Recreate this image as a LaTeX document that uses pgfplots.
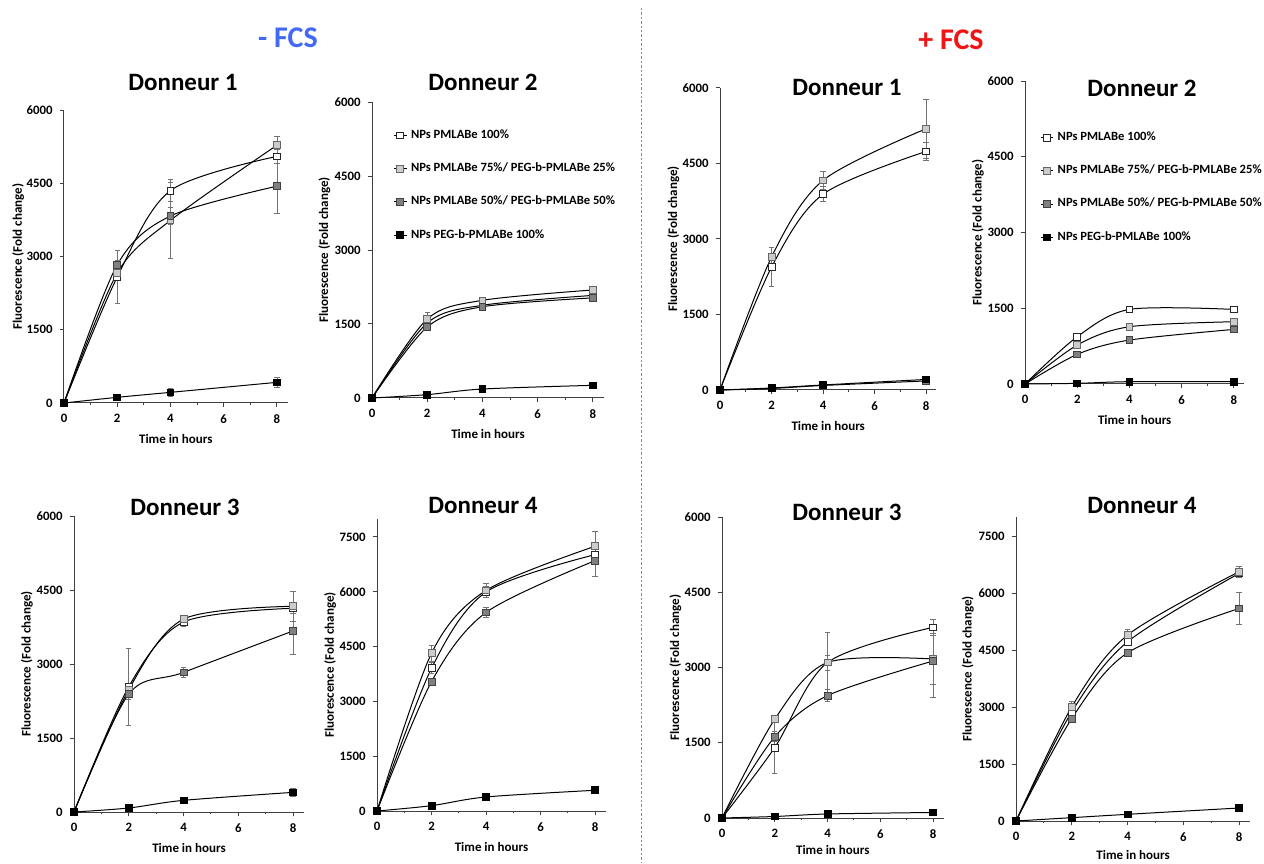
\documentclass[border=0pt]{standalone}
\usepackage{fontspec}
\setmainfont{Carlito}
\usepackage{pgfplots}
\usepackage{pgfplotstable}
\pgfplotsset{compat=1.18}

% columns: t, A (PMLABe 100%), B (75/25), C (50/50), D (PEG 100%) with errors
\pgfplotstableread{
t A Ae B Be C Ce D De
0 0 0 0 0 0 0 0 0
2 2580 550 2660 120 2830 100 116 60
4 4350 230 3740 780 3830 170 218 90
8 5050 150 5280 170 4440 560 423 110
}\tabI
\pgfplotstableread{
t A Ae B Be C Ce D De
0 0 0 0 0 0 0 0 0
2 1520 60 1600 130 1440 60 68 20
4 1880 50 1980 60 1850 50 182 30
8 2080 40 2190 50 2030 40 257 30
}\tabII
\pgfplotstableread{
t A Ae B Be C Ce D De
0 0 0 0 0 0 0 0 0
2 2440 390 2640 200 30 10 40 20
4 3890 150 4165 170 90 20 100 30
8 4740 180 5190 590 180 40 210 60
}\tabIII
\pgfplotstableread{
t A Ae B Be C Ce D De
0 0 0 0 0 0 0 0 0
2 936 30 771 30 587 30 13 10
4 1477 30 1134 30 870 30 46 15
8 1477 30 1233 30 1081 30 46 15
}\tabIV
\pgfplotstableread{
t A Ae B Be C Ce D De
0 0 0 0 0 0 0 0 0
2 2540 780 2480 100 2390 100 81 60
4 3850 80 3910 60 2830 100 236 30
8 4130 100 4170 300 3670 470 398 80
}\tabV
\pgfplotstableread{
t A Ae B Be C Ce D De
0 0 0 0 0 0 0 0 0
2 3905 150 4317 220 3540 100 146 40
4 5991 150 6036 180 5433 130 384 40
8 7015 200 7244 410 6850 430 567 50
}\tabVI
\pgfplotstableread{
t A Ae B Be C Ce D De
0 0 0 0 0 0 0 0 0
2 1405 520 1970 60 1620 100 30 10
4 3100 150 3100 600 2440 120 80 20
8 3800 150 3170 500 3130 720 110 20
}\tabVII
\pgfplotstableread{
t A Ae B Be C Ce D De
0 0 0 0 0 0 0 0 0
2 2872 100 3003 150 2696 80 88 20
4 4716 100 4892 150 4426 60 176 30
8 6516 100 6560 150 5594 420 342 40
}\tabVIII

\definecolor{fcsblue}{RGB}{66,105,245}
\definecolor{fcsred}{RGB}{240,20,20}

\pgfplotsset{
  panel/.style={
    scale only axis, anchor=south west,
    xmin=0, xmax=8.4, ymin=0,
    axis lines*=left,
    xtick={0,2,4,6,8}, minor xtick={1,3,5,7},
    tick align=outside,
    major tick length=2.2pt, minor tick length=1.2pt,
    axis line style={draw=black!75, line width=0.5pt},
    every tick/.style={black!75, line width=0.5pt},
    tick label style={font=\bfseries\fontsize{6.4}{7}\selectfont},
    label style={font=\bfseries\fontsize{6.5}{7}\selectfont},
    xlabel={Time in hours},
    ylabel={Fluorescence (Fold change)},
    ylabel style={at={(axis description cs:-0.205,0.5)}, anchor=center},
    xlabel shift=-1.5pt,
    /pgf/number format/assume math mode=true,
    /pgf/number format/1000 sep={},
    scaled ticks=false,
    clip=false,
    legend cell align=left,
    legend image code/.code={\draw[mark repeat=2,mark phase=2,##1] plot coordinates {(0cm,0cm) (0.11cm,0cm) (0.22cm,0cm)};},
  },
  ebar/.style={error bars/.cd, y dir=both, y explicit,
    error bar style={black!55, line width=0.4pt},
    error mark options={rotate=90, mark size=1.3pt, black!55, line width=0.4pt}},
  sA/.style={smooth, black, line width=0.5pt, mark=square*, mark size=1.7pt, mark options={fill=white, draw=black!85, line width=0.4pt}, ebar},
  sB/.style={smooth, black, line width=0.5pt, mark=square*, mark size=1.7pt, mark options={fill=black!20, draw=black!60, line width=0.4pt}, ebar},
  sC/.style={smooth, black, line width=0.5pt, mark=square*, mark size=1.7pt, mark options={fill=black!50, draw=black!75, line width=0.4pt}, ebar},
  sD/.style={smooth, black, line width=0.5pt, mark=square*, mark size=1.7pt, mark options={fill=black, draw=black, line width=0.4pt}, ebar},
  leg/.style={legend style={at={(#1)}, anchor=north west, draw=none, fill=none,
    font=\bfseries\fontsize{6.3}{7.2}\selectfont, row sep=6.7pt,
    /tikz/every even column/.append style={column sep=0pt}}},
}

\newcommand{\fourplots}[1]{%
  \addplot[sA] table[x=t,y=A,y error=Ae]{#1};
  \addplot[sB] table[x=t,y=B,y error=Be]{#1};
  \addplot[sC] table[x=t,y=C,y error=Ce]{#1};
  \addplot[sD] table[x=t,y=D,y error=De]{#1};
}

\begin{document}
\begin{tikzpicture}
\path[use as bounding box] (0,0) rectangle (632pt,431.5pt);
\begin{scope}[yshift=431.5pt, x=0.5pt, y=-0.5pt]
  \draw[black!45, line width=0.4pt, dash pattern=on 1.2pt off 1pt] (641,8) -- (641,863);
  \node[font=\bfseries\fontsize{15}{17}\selectfont, text=fcsblue] at (288,38) {- FCS};
  \node[font=\bfseries\fontsize{15}{17}\selectfont, text=fcsred] at (951,40) {+ FCS};
  \tikzset{ttl/.style={font=\bfseries\fontsize{12.5}{14}\selectfont}}
  \node[ttl] at (183,82) {Donneur 1};
  \node[ttl] at (483,82) {Donneur 2};
  \node[ttl] at (847,87) {Donneur 1};
  \node[ttl] at (1142,88) {Donneur 2};
  \node[ttl] at (185,507) {Donneur 3};
  \node[ttl] at (483,505) {Donneur 4};
  \node[ttl] at (847,512) {Donneur 3};
  \node[ttl] at (1142,505) {Donneur 4};
  \coordinate (o1) at (64,403);
  \coordinate (o2) at (372,398);
  \coordinate (o3) at (720,390);
  \coordinate (o4) at (1025,384);
  \coordinate (o5) at (74,812);
  \coordinate (o6) at (377,811);
  \coordinate (o7) at (722,818);
  \coordinate (o8) at (1016,821);
\end{scope}

% -FCS Donneur 1
\begin{axis}[panel, at={(o1)}, width=111.8pt, height=146.5pt, ymax=6000, ytick={0,1500,3000,4500,6000}]
\fourplots{\tabI}
\end{axis}
% -FCS Donneur 2
\begin{axis}[panel, at={(o2)}, width=116pt, height=148pt, ymax=6000, ytick={0,1500,3000,4500,6000}, leg={0.065,0.935}]
\fourplots{\tabII}
\legend{NPs PMLABe 100\%, NPs PMLABe 75\%/ PEG-b-PMLABe 25\%, NPs PMLABe 50\%/ PEG-b-PMLABe 50\%, NPs PEG-b-PMLABe 100\%}
\end{axis}
% +FCS Donneur 1
\begin{axis}[panel, at={(o3)}, width=108.2pt, height=151pt, ymax=6000, ytick={0,1500,3000,4500,6000}, ylabel style={at={(axis description cs:-0.215,0.5)}}]
\fourplots{\tabIII}
\end{axis}
% +FCS Donneur 2
\begin{axis}[panel, at={(o4)}, width=109.7pt, height=151.5pt, ymax=6000, ytick={0,1500,3000,4500,6000}, leg={0.04,0.86}, ylabel style={at={(axis description cs:-0.215,0.5)}}]
\fourplots{\tabIV}
\legend{NPs PMLABe 100\%, NPs PMLABe 75\%/ PEG-b-PMLABe 25\%, NPs PMLABe 50\%/ PEG-b-PMLABe 50\%, NPs PEG-b-PMLABe 100\%}
\end{axis}
% -FCS Donneur 3
\begin{axis}[panel, at={(o5)}, width=115pt, height=148pt, ymax=6000, ytick={0,1500,3000,4500,6000}]
\fourplots{\tabV}
\end{axis}
% -FCS Donneur 4
\begin{axis}[panel, at={(o6)}, width=114.5pt, height=146.2pt, ymax=8000, ytick={0,1500,3000,4500,6000,7500}]
\fourplots{\tabVI}
\end{axis}
% +FCS Donneur 3
\begin{axis}[panel, at={(o7)}, width=110.8pt, height=150.5pt, ymax=6000, ytick={0,1500,3000,4500,6000}, xlabel shift=-3.5pt, ylabel style={at={(axis description cs:-0.21,0.5)}}]
\fourplots{\tabVII}
\end{axis}
% +FCS Donneur 4
\begin{axis}[panel, at={(o8)}, width=117.1pt, height=152pt, ymax=8000, ytick={0,1500,3000,4500,6000,7500}, xlabel shift=-2.5pt]
\fourplots{\tabVIII}
\end{axis}
\end{tikzpicture}
\end{document}
